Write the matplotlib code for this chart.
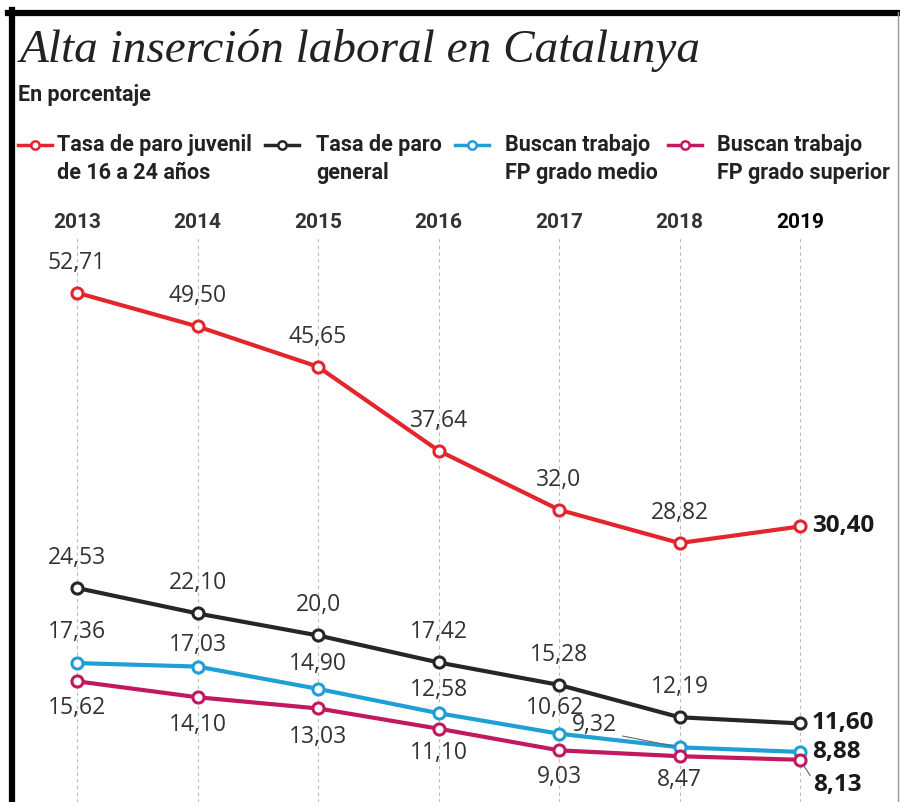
import numpy as np
import matplotlib
matplotlib.use("Agg")
import matplotlib.pyplot as plt
from matplotlib.lines import Line2D
from matplotlib import font_manager

# DATA
years = [2013, 2014, 2015, 2016, 2017, 2018, 2019]
juvenil = [52.71, 49.50, 45.65, 37.64, 32.0, 28.82, 30.40]
general = [24.53, 22.10, 20.0, 17.42, 15.28, 12.19, 11.60]
fp_medio = [17.36, 17.03, 14.90, 12.58, 10.62, 9.32, 8.88]
fp_superior = [15.62, 14.10, 13.03, 11.10, 9.03, 8.47, 8.13]
juvenil_txt = ["52,71", "49,50", "45,65", "37,64", "32,0", "28,82", "30,40"]
general_txt = ["24,53", "22,10", "20,0", "17,42", "15,28", "12,19", "11,60"]
medio_txt = ["17,36", "17,03", "14,90", "12,58", "10,62", "9,32", "8,88"]
superior_txt = ["15,62", "14,10", "13,03", "11,10", "9,03", "8,47", "8,13"]
legend_labels = ["Tasa de paro juvenil\nde 16 a 24 años", "Tasa de paro\ngeneral",
                 "Buscan trabajo\nFP grado medio", "Buscan trabajo\nFP grado superior"]

RED = "#e3262d"
BLACK = "#262626"
BLUE = "#1ea0d4"
MAGENTA = "#c2185f"
TXT = "#333333"

names = [f.name for f in font_manager.fontManager.ttflist]
narrow = "Liberation Sans Narrow" if "Liberation Sans Narrow" in names else "Roboto"
label_font = "Open Sans"

fig = plt.figure(figsize=(9, 8.02), dpi=100)

# frame
fig.add_artist(Line2D([8/900, 1], [1 - 12.5/802, 1 - 12.5/802], color="black", lw=4.5))
fig.add_artist(Line2D([12/900, 12/900], [0, 1 - 10/802], color="black", lw=4.5))
fig.add_artist(Line2D([898/900, 898/900], [0, 1 - 12/802], color="#999999", lw=1))

# titles
fig.text(20/900, 1 - 50/802, "Alta inserción laboral en Catalunya", family="Liberation Serif",
         style="italic", fontsize=34, color="#222222", va="center", ha="left")
fig.text(18/900, 1 - 95/802, "En porcentaje", family=narrow, weight="bold",
         fontsize=15.5, color="#222222", va="center", ha="left")

# legend drawn by hand
handle_x = [18, 265, 455, 668]
text_x = [57, 316, 505, 717]
for x0, xt, col, lab in zip(handle_x, text_x, [RED, BLACK, BLUE, MAGENTA], legend_labels):
    yy = 1 - 145/802
    fig.add_artist(Line2D([x0/900, (x0 + 17)/900, (x0 + 34)/900], [yy, yy, yy], color=col, lw=2.5,
                          marker="o", markevery=[1], ms=6, mfc="white", mew=1.8))
    fig.text(xt/900, 1 - 134/802, lab, family=narrow, weight="bold", fontsize=15.5,
             color="#222222", va="top", ha="left", linespacing=1.35)

# main axes
ax = fig.add_axes([14/900, 0, 881/900, (802 - 238)/802])
ax.set_xlim(2012.477, 2019.788)
ax.set_ylim(4.10, 57.94)
for s in ax.spines.values():
    s.set_visible(False)
ax.set_yticks([])
ax.set_xticks(years)
ax.xaxis.tick_top()
ax.tick_params(axis="x", length=0, pad=4)
ax.set_xticklabels([str(y) for y in years], family=narrow, fontsize=15, weight="bold", color="#333333")
ax.get_xticklabels()[-1].set_color("black")
ax.grid(axis="x", color="#bbbbbb", ls=(0, (3, 3)), lw=0.8)

series = [(juvenil, RED, juvenil_txt), (general, BLACK, general_txt),
          (fp_medio, BLUE, medio_txt), (fp_superior, MAGENTA, superior_txt)]
for vals, col, _ in series:
    ax.plot(years, vals, color=col, lw=3, marker="o", ms=8, mfc="white", mew=2.2, zorder=3,
            solid_joinstyle="round")

lab_kw = dict(family=label_font, fontsize=16.5, color=TXT, ha="center", va="center")
# labels above the red and black lines
for x, v, t in zip(years[:-1], juvenil[:-1], juvenil_txt[:-1]):
    ax.annotate(t, (x, v), xytext=(0, 30), textcoords="offset pixels", **lab_kw)
for x, v, t in zip(years[:-1], general[:-1], general_txt[:-1]):
    ax.annotate(t, (x, v), xytext=(0, 30), textcoords="offset pixels", **lab_kw)
medio_off = [(0, 31), (0, 22), (0, 25), (0, 23), (-4, 26)]
for (x, v, t), off in zip(zip(years[:-2], fp_medio[:-2], medio_txt[:-2]), medio_off):
    ax.annotate(t, (x, v), xytext=off, textcoords="offset pixels", **lab_kw)
ax.annotate(medio_txt[5], (years[5], fp_medio[5]), xytext=(-85, 22), textcoords="offset pixels",
            arrowprops=dict(arrowstyle="-", color="#666666", lw=0.8, shrinkA=2, shrinkB=5,
                            relpos=(1, 0.1)), **lab_kw)
sup_off = [(0, -27), (0, -28), (0, -29), (0, -24), (0, -27), (0, -24)]
for (x, v, t), off in zip(zip(years[:-1], fp_superior[:-1], superior_txt[:-1]), sup_off):
    ax.annotate(t, (x, v), xytext=off, textcoords="offset pixels", **lab_kw)

# right side bold labels
bold_kw = dict(family=label_font, fontsize=17.5, weight="bold", color="#1a1a1a", ha="left", va="center")
ax.annotate(juvenil_txt[-1], (years[-1], juvenil[-1]), xytext=(12, 0), textcoords="offset pixels", **bold_kw)
ax.annotate(general_txt[-1], (years[-1], general[-1]), xytext=(12, 0), textcoords="offset pixels", **bold_kw)
ax.annotate(medio_txt[-1], (years[-1], fp_medio[-1]), xytext=(12, 0), textcoords="offset pixels", **bold_kw)
ax.annotate(superior_txt[-1], (years[-1], fp_superior[-1]), xytext=(13, -25), textcoords="offset pixels",
            arrowprops=dict(arrowstyle="-", color="#666666", lw=0.8, shrinkA=0, shrinkB=5,
                            relpos=(0, 0.7)), **bold_kw)

fig.savefig("out.png", dpi=100)
